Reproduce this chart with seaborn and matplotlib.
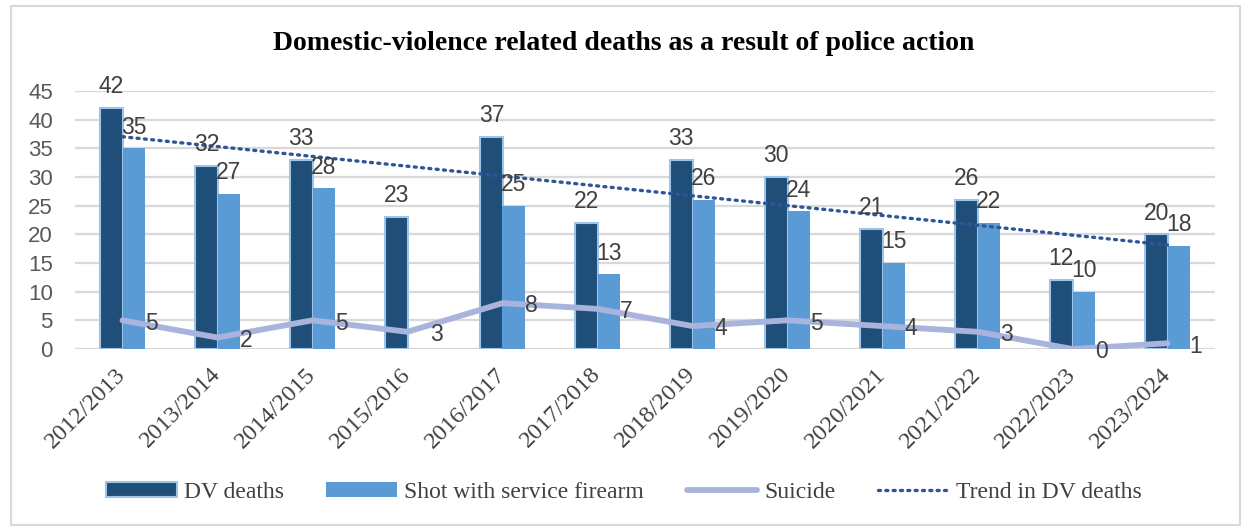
import numpy as np
import pandas as pd
import matplotlib
matplotlib.use("Agg")
import matplotlib.pyplot as plt
import seaborn as sns
from matplotlib.patches import Patch, Rectangle
from matplotlib.lines import Line2D

years = ["2012/2013", "2013/2014", "2014/2015", "2015/2016", "2016/2017", "2017/2018",
         "2018/2019", "2019/2020", "2020/2021", "2021/2022", "2022/2023", "2023/2024"]
dv_deaths = [42, 32, 33, 23, 37, 22, 33, 30, 21, 26, 12, 20]
shot_firearm = [35, 27, 28, None, 25, 13, 26, 24, 15, 22, 10, 18]
suicide = [5, 2, 5, 3, 8, 7, 4, 5, 4, 3, 0, 1]
yticks = [0, 5, 10, 15, 20, 25, 30, 35, 40, 45]

C_DV = "#1F4E79"
C_SHOT = "#5B9BD5"
C_EDGE = "#9DC3E6"
C_SUI = "#A9B4DC"
C_TREND = "#2F5597"
GRID = "#D9D9D9"
SANS = "Liberation Sans"
SERIF = "Liberation Serif"

sns.set_theme(style="white")
plt.rcParams["font.family"] = [SANS, "DejaVu Sans"]

fig = plt.figure(figsize=(12.48, 5.29), dpi=100)
ax = fig.add_axes([75/1248, 180/529, 1140/1248, 258/529])

rows = []
for y, d, s in zip(years, dv_deaths, shot_firearm):
    rows.append({"year": y, "series": "DV deaths", "value": d})
    if s is not None:
        rows.append({"year": y, "series": "Shot with service firearm", "value": s})
df = pd.DataFrame(rows)

sns.barplot(data=df, x="year", y="value", hue="series", order=years,
            hue_order=["DV deaths", "Shot with service firearm"],
            palette=[C_DV, C_SHOT], width=0.47, errorbar=None, ax=ax,
            legend=False, saturation=1)
for p in ax.patches:
    if abs(p.get_facecolor()[0] - matplotlib.colors.to_rgba(C_DV)[0]) < 0.01:
        p.set_edgecolor(C_EDGE)
        p.set_linewidth(1.5)
    else:
        p.set_edgecolor("none")

x = np.arange(len(years))
bw = 0.235

# trend line (linear fit of DV deaths, as Excel trendline)
coef = np.polyfit(x, dv_deaths, 1)
trend = np.polyval(coef, x)
sns.lineplot(x=x, y=trend, ax=ax, color=C_TREND, linewidth=2.4,
             linestyle=(0, (0.6, 1.6)), dash_capstyle="round", zorder=4)

# suicide line
sns.lineplot(x=x, y=suicide, ax=ax, color=C_SUI, linewidth=4.2, zorder=5,
             solid_capstyle="round")

lab_kw = dict(fontsize=16.5, color="#404040", family=SANS)
for i, (d, s, su) in enumerate(zip(dv_deaths, shot_firearm, suicide)):
    ax.annotate(str(d), (i - bw/2, d), xytext=(0, 7), textcoords="offset points",
                ha="center", va="bottom", zorder=6, **lab_kw)
    if s is not None:
        ax.annotate(str(s), (i + bw/2, s), xytext=(0, 7), textcoords="offset points",
                    ha="center", va="bottom", zorder=6, **lab_kw)
    ax.annotate(str(su), (i, su), xytext=(16, -2), textcoords="offset points",
                ha="left", va="center", zorder=6, **lab_kw)

ax.set_xlim(-0.5, len(years) - 0.5)
ax.set_ylim(0, 45)
ax.set_yticks(yticks)
ax.set_yticklabels([str(t) for t in yticks], fontsize=16, color="#595959", family=SANS)
ax.set_xticks(x)
ax.set_xticklabels(years, rotation=45, ha="right", va="center", rotation_mode="anchor",
                   fontsize=17.5, color="#404040", family=SERIF)
ax.tick_params(axis="y", length=0, pad=16)
ax.tick_params(axis="x", length=0, pad=16)
ax.set_xlabel("")
ax.set_ylabel("")
ax.yaxis.grid(True, color=GRID, linewidth=1.6)
ax.set_axisbelow(True)
for sp in ax.spines.values():
    sp.set_visible(False)

fig.text(0.5, 1 - 44/529, "Domestic-violence related deaths as a result of police action",
         ha="center", va="center", fontsize=20, fontweight="bold", color="black",
         family=SERIF)

handles = [
    Patch(facecolor=C_DV, edgecolor=C_EDGE, linewidth=1.5, label="DV deaths"),
    Patch(facecolor=C_SHOT, edgecolor="none", label="Shot with service firearm"),
    Line2D([0], [0], color=C_SUI, linewidth=4.2, solid_capstyle="round", label="Suicide"),
    Line2D([0], [0], color=C_TREND, linewidth=2.4, linestyle=(0, (0.6, 1.6)),
           dash_capstyle="round", label="Trend in DV deaths"),
]
fig.legend(handles=handles, loc="center", bbox_to_anchor=(0.5, 1 - 492/529), ncol=4,
           frameon=False, prop={"family": SERIF, "size": 17}, labelcolor="#404040",
           handlelength=3.0, handleheight=0.6, columnspacing=1.8, handletextpad=0.3)

fig.patches.append(Rectangle((11/1248, 4/529), 1229/1248, 519/529, transform=fig.transFigure,
                             fill=False, edgecolor=GRID, linewidth=1.5))

fig.savefig("out.png", dpi=100, facecolor="white")
